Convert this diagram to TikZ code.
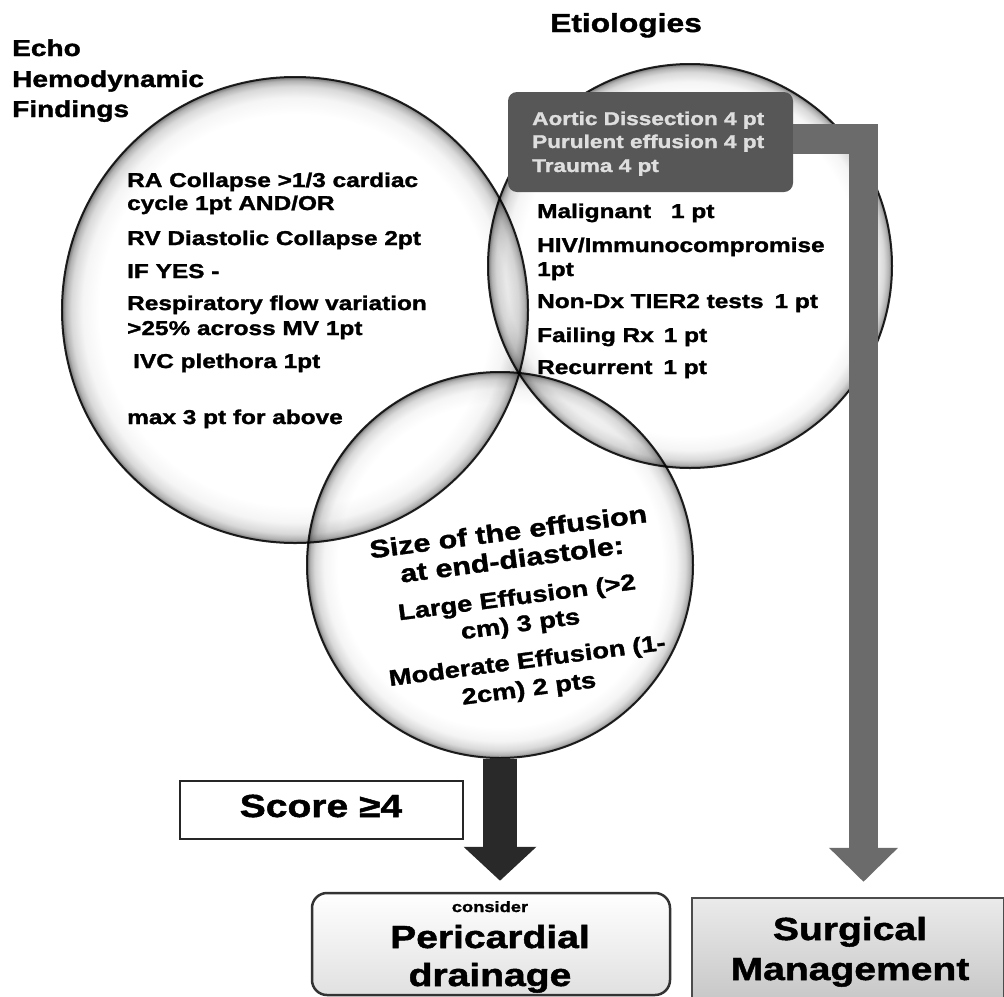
\documentclass[tikz,border=0pt]{standalone}
\usepackage{fontspec}
\usetikzlibrary{arrows.meta}
\newfontfamily\hv{Liberation Sans Bold}[FakeStretch=1.22,FakeBold=1.5]

% glass-like sphere: white inside, a narrow grey band at the rim
\pgfdeclareradialshading{glass}{\pgfpoint{0bp}{0bp}}{%
  color(0bp)=(white); color(21bp)=(white); color(22.8bp)=(black!4);
  color(24bp)=(black!15); color(24.6bp)=(black!30); color(24.9bp)=(black!48);
  color(25bp)=(black!55); color(50bp)=(black!55)}

\begin{document}
\begin{tikzpicture}[x=1bp,y=1bp,
  fs/.style={font={\hv\fontsize{#1bp}{#1bp}\selectfont}},
  ln/.style={anchor=base west, inner sep=0pt, fs=20},
  boxln/.style={anchor=base west, inner sep=0pt, fs=18.5, text=black!13},
  ctr/.style={anchor=base, inner sep=0pt},
  tilted/.style={anchor=base, inner sep=0pt, rotate=7.5},
  bubble/.style={circle, inner sep=0pt, shade, shading=glass,
    draw=black!85, line width=2bp},
  bigarrow/.style={line width=#1, line join=miter},
]
\useasboundingbox (0,0) rectangle (1004,-997);

% the three overlapping circles
\begin{scope}[blend mode=multiply]
  \node[bubble, minimum size=466bp] (lc) at (295,-310) {};
  \node[bubble, minimum size=404bp] (rc) at (690,-266) {};
  \node[bubble, minimum size=386bp] (bc) at (500,-565) {};
\end{scope}

% headings
\node[ln, fs=23] (h1) at (12,-56) {Echo};
\node[ln, fs=23] (h2) at (12,-87) {Hemodynamic};
\node[ln, fs=23] (h3) at (12,-117) {Findings};
\node[ctr, fs=26] (et) at (626,-32) {Etiologies};

% echo findings
\node[ln] (e1) at (127,-187) {RA Collapse >1/3 cardiac};
\node[ln] (e2) at (127,-210) {cycle 1pt AND/OR};
\node[ln] (e3) at (127,-245) {RV Diastolic Collapse 2pt};
\node[ln] (e4) at (127,-278) {IF YES -};
\node[ln] (e5) at (127,-310) {Respiratory flow variation};
\node[ln] (e6) at (127,-335) {>25\% across MV 1pt};
\node[ln] (e7) at (133,-368) {IVC plethora 1pt};
\node[ln] (e8) at (127,-424) {max 3 pt for above};

% route to surgery: L-shaped grey arrow leaving the high-risk box
\coordinate (bend) at (863.5,-139);
\node[fill=black!66, rounded corners=9bp, minimum width=285bp,
  minimum height=100bp, inner sep=0pt] (etbox) at (650.5,-142) {};
\node[minimum width=311bp, minimum height=104bp, inner sep=0pt] (surg) at (848,-950) {};
\draw[bigarrow=29.5bp, draw=black!58, -{Triangle[length=34bp,width=67bp]},
  shorten >=16bp] (etbox.east |- bend) -- (bend) -- (bend |- surg.north);

\node[boxln] (a1) at (532,-125) {Aortic Dissection 4 pt};
\node[boxln] (a2) at (532,-148) {Purulent effusion 4 pt};
\node[boxln] (a3) at (532,-172) {Trauma 4 pt};

% etiologies
\node[ln] (r1) at (537,-218) {Malignant\hspace{20bp}1 pt};
\node[ln] (r2) at (537,-252) {HIV/Immunocompromise};
\node[ln] (r3) at (537,-276) {1pt};
\node[ln] (r4) at (537,-308) {Non-Dx TIER2 tests\hspace{11bp}1 pt};
\node[ln] (r5) at (537,-342) {Failing Rx\hspace{10bp}1 pt};
\node[ln] (r6) at (537,-374) {Recurrent\hspace{11bp}1 pt};

% effusion size, set on a slight tilt
\begin{scope}[shift={(513,-568)}, rotate=7.5]
  \node[tilted, fs=25] (s1) at (0,28) {Size of the effusion};
  \node[tilted, fs=25] (s2) at (0,0) {at end-diastole:};
  \node[tilted, fs=22.4] (s3) at (0,-37) {Large Effusion (>2};
  \node[tilted, fs=22.4] (s4) at (0,-64) {cm) 3 pts};
  \node[tilted, fs=22.4] (s5) at (2,-101) {Moderate Effusion\hspace{7bp}(1-};
  \node[tilted, fs=22.4] (s6) at (0,-129) {2cm) 2 pts};
\end{scope}

% score threshold
\node[draw=black!85, line width=2bp, fill=white, minimum width=283bp,
  minimum height=58bp, inner sep=0pt] (score) at (321.5,-810) {};
\node[ctr, fs=32] (st) at (321,-817) {Score ≥4};

% outcome boxes
\node[draw=black!80, line width=2.5bp, rounded corners=15bp, top color=white,
  bottom color=black!12, minimum width=358bp, minimum height=102bp,
  inner sep=0pt] (peri) at (491,-944) {};
\node[ctr, fs=15] (p1) at (490,-912) {consider};
\node[ctr, fs=32] (p2) at (490,-948) {Pericardial};
\node[ctr, fs=32] (p3) at (490,-986) {drainage};

\draw[draw=black!70, line width=2bp, top color=black!8, bottom color=black!22]
  (surg.north west) rectangle (surg.south east);
\node[ctr, fs=32] (g1) at (850,-940) {Surgical};
\node[ctr, fs=32] (g2) at (850,-980) {Management};

% route to drainage
\draw[bigarrow=34bp, draw=black!84, -{Triangle[length=34bp,width=71bp]},
  shorten >=11bp] (bc.south) -- (bc.south |- peri.north);
\end{tikzpicture}
\end{document}
